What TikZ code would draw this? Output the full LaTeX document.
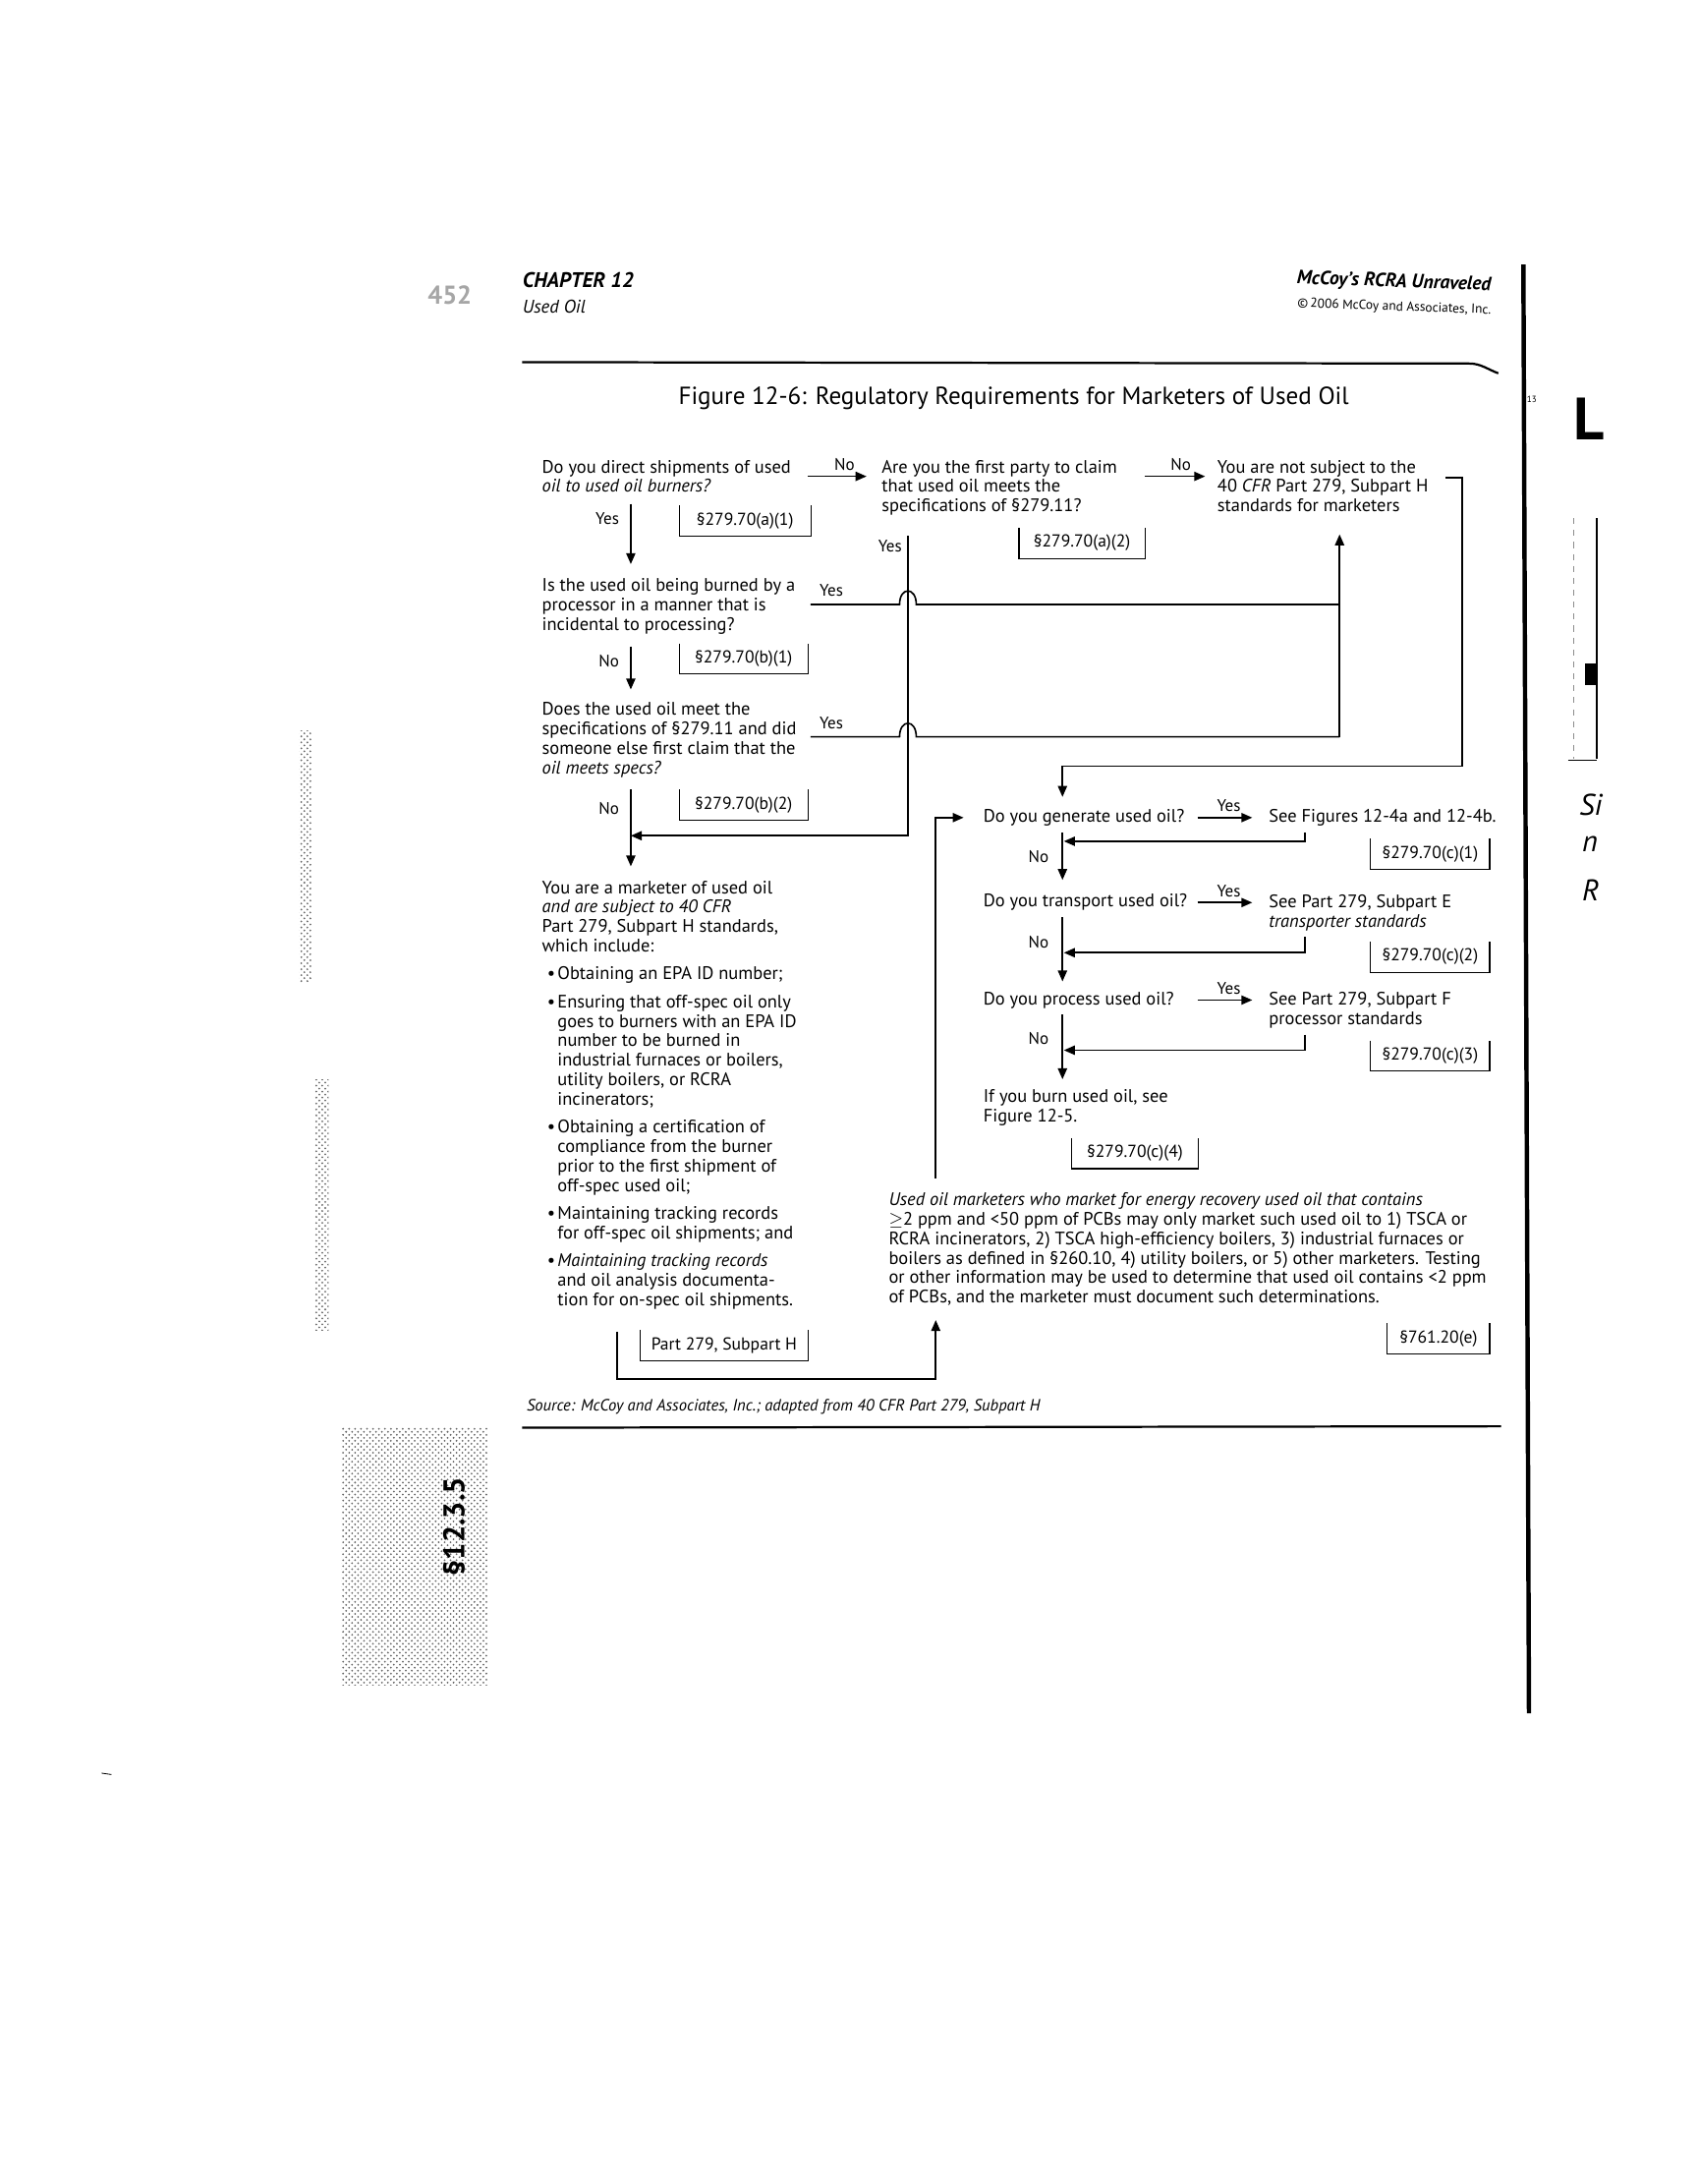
\documentclass[tikz,border=0pt]{standalone}
\usepackage{fontspec}
\setmainfont{PT Sans}
\usetikzlibrary{arrows.meta,positioning,calc,patterns}
\newcommand{\mkbul}{\hspace*{2.6pt}\makebox[5.2pt][l]{\textbullet}}
\newcommand{\mkind}{\hspace*{7.8pt}}

\begin{document}
\begin{tikzpicture}[x=0.7pt,y=-0.7pt,
font=\fontsize{9.1}{9.8}\selectfont,
txt/.style={align=left,anchor=north west,inner sep=0pt},
lbl/.style={font=\fontsize{8.4}{9}\selectfont,inner sep=1.5pt},
refbox/.style={inner sep=0pt,minimum height=15pt,minimum width=#1,font=\fontsize{8.7}{9}\selectfont},
ln/.style={line width=0.8pt},
arr/.style={line width=0.8pt,-{Triangle[length=5.5pt,width=4.6pt]}},
noise/.style={pattern=crosshatch dots,pattern color=black!60}]
\useasboundingbox (0,0) rectangle (1219,1568);

% page header
\node[text=black!35,font=\bfseries\fontsize{13}{14}\selectfont] (pgno) at (323,212) {452};
\node[anchor=west,inner sep=0pt,font=\bfseries\itshape\fontsize{10.6}{11}\selectfont] (chap) at (375,201) {CHAPTER 12};
\node[anchor=west,inner sep=0pt,font=\itshape\fontsize{9.2}{10}\selectfont] (part) at (375,220) {Used Oil};
\node[anchor=east,inner sep=0pt,rotate=-2,font=\bfseries\itshape\fontsize{9.7}{10}\selectfont] (book) at (1071,205) {McCoy's RCRA Unraveled};
\node[anchor=east,inner sep=0pt,rotate=-2,font=\fontsize{6.6}{7}\selectfont] (copy) at (1071,223) {\textcopyright\,2006 McCoy and Associates, Inc.};
\draw[line width=1.1pt] (375,260) -- (1055,261) to[out=0,in=160] (1076,268);
\node[font=\fontsize{12.4}{14}\selectfont] (title) at (728,286) {Figure 12-6: Regulatory Requirements for Marketers of Used Oil};

% questions, left column
\node[txt] (q1) at (389,330) {Do you direct shipments of used\\\textit{oil to used oil burners?}};
\node[txt] (q2) at (633,330) {Are you the first party to claim\\that used oil meets the\\specifications of §279.11?};
\node[txt] (q3) at (874,330) {You are not subject to the\\40 \textit{CFR} Part 279, Subpart H\\standards for marketers};
\node[txt] (q4) at (389,415) {Is the used oil being burned by a\\processor in a manner that is\\incidental to processing?};
\node[txt] (q5) at (389,504) {Does the used oil meet the\\specifications of §279.11 and did\\someone else first claim that the\\\textit{oil meets specs?}};
\node[txt] (mk) at (389,632) {You are a marketer of used oil\\\textit{and are subject to 40 CFR}\\Part 279, Subpart H standards,\\which include:\\[4.2pt]
\mkbul Obtaining an EPA ID number;\\[4.2pt]
\mkbul Ensuring that off-spec oil only\\\mkind goes to burners with an EPA ID\\\mkind number to be burned in\\\mkind industrial furnaces or boilers,\\\mkind utility boilers, or RCRA\\\mkind incinerators;\\[4.2pt]
\mkbul Obtaining a certification of\\\mkind compliance from the burner\\\mkind prior to the first shipment of\\\mkind off-spec used oil;\\[4.2pt]
\mkbul Maintaining tracking records\\\mkind for off-spec oil shipments; and\\[4.2pt]
\mkbul \textit{Maintaining tracking records}\\\mkind and oil analysis documenta-\\\mkind tion for on-spec oil shipments.};

% questions, right column
\node[anchor=west,inner sep=0pt] (g1) at (706,587) {Do you generate used oil?};
\node[anchor=west,inner sep=0pt] (s1) at (911,587) {See Figures 12-4a and 12-4b.};
\node[anchor=west,inner sep=0pt] (g2) at (706,648) {Do you transport used oil?};
\node[txt] (s2) at (911,642) {See Part 279, Subpart E\\\textit{transporter standards}};
\node[anchor=west,inner sep=0pt] (g3) at (706,718) {Do you process used oil?};
\node[txt] (s3) at (911,712) {See Part 279, Subpart F\\processor standards};
\node[txt] (g4) at (706,782) {If you burn used oil, see\\Figure 12-5.};
\node[txt] (pcb) at (638,856) {\textit{Used oil marketers who market for energy recovery used oil that contains}\\
$\geq$2 ppm and <50 ppm of PCBs may only market such used oil to 1) TSCA or\\
RCRA incinerators, 2) TSCA high-efficiency boilers, 3) industrial furnaces or\\
boilers as defined in §260.10, 4) utility boilers, or 5) other marketers. Testing\\
or other information may be used to determine that used oil contains <2 ppm\\
of PCBs, and the marketer must document such determinations.};

% citations
\node[refbox=65.8pt] (ref1) at (535,374) {§279.70(a)(1)};
\node[refbox=63pt] (ref2) at (777,390) {§279.70(a)(2)};
\node[refbox=64.4pt] (ref3) at (534,473) {§279.70(b)(1)};
\node[refbox=64.4pt] (ref4) at (534,578) {§279.70(b)(2)};
\node[refbox=59.5pt] (ref5) at (1027,613) {§279.70(c)(1)};
\node[refbox=59.5pt] (ref6) at (1027,687) {§279.70(c)(2)};
\node[refbox=59.5pt] (ref7) at (1027,758) {§279.70(c)(3)};
\node[refbox=63pt] (ref8) at (815,828) {§279.70(c)(4)};
\node[refbox=84pt] (ref9) at (520,966) {Part 279, Subpart H};
\node[refbox=51pt] (ref10) at (1033,961) {§761.20(e)};
\foreach \r in {1,...,10}
  \draw[line width=0.6pt] (ref\r.north west) |- (ref\r.south east) -- (ref\r.north east);

% guide lines
\coordinate (L) at (453,0);
\coordinate (M) at (652,0);
\coordinate (R) at (962,0);
\coordinate (F) at (1050,0);
\coordinate (G) at (763,0);
\coordinate (E) at (937,0);
\coordinate (B) at (672,0);
\coordinate (K) at (443,0);
\coordinate (Y) at (860,0);
\coordinate (Z) at (905,0);
\coordinate (a1) at (580,342);
\coordinate (a2) at (822,342);
\coordinate (q3out) at (1038,343);
\coordinate (c1) at (1050,550);
\coordinate (j1) at (453,600);
\coordinate (y4) at (582,434);
\coordinate (y5) at (582,529);
\coordinate (m1) at (764,604);
\coordinate (m2) at (764,684);
\coordinate (m3) at (764,754);
\coordinate (bot) at (443,990);

% left column flow
\draw[arr,shorten >=7.5pt] (a1) -- node[lbl,above=1pt]{No} (q2.west |- a1);
\draw[arr,shorten >=6pt] (a2) -- node[lbl,above=1pt]{No} (q3.west |- a2);
\draw[arr,shorten <=5.5pt,shorten >=7pt] (q1.south -| L) -- node[lbl,left=4pt,pos=0.3]{Yes} (q4.north -| L);
\draw[arr,shorten <=6pt,shorten >=6.3pt] (q4.south -| L) -- node[lbl,left=4pt,pos=0.4]{No} (q5.north -| L);
\draw[arr,shorten <=6pt,shorten >=7pt] (q5.south -| L) -- node[lbl,left=4pt,pos=0.3]{No} (mk.north -| L);
\draw[arr,shorten <=10pt] (q2.south -| M) |- (j1);
\node[lbl,anchor=east] (yes2) at (650,392) {Yes};
\draw[ln] (y4) -- ($(M |- y4)+(-6,0)$) .. controls +(0,-13) and +(0,-13) .. ($(M |- y4)+(6,0)$) -- (R |- y4);
\node[lbl] (yes4) at (597,424) {Yes};
\draw[ln] (y5) -- ($(M |- y5)+(-6,0)$) .. controls +(0,-13) and +(0,-13) .. ($(M |- y5)+(6,0)$) -- (R |- y5);
\node[lbl] (yes5) at (597,519) {Yes};
\draw[arr,shorten >=11pt] (R |- y5) -- (q3.south -| R);
\draw[arr,shorten >=6pt] (q3out) -| (c1) -| (g1.north -| G);

% right column flow
\draw[arr,shorten >=4pt] (g1 -| Y) -- node[lbl,above=1pt]{Yes} (g1 -| Z);
\draw[arr,shorten >=4pt] (g2 -| Y) -- node[lbl,above=1pt]{Yes} (g2 -| Z);
\draw[arr,shorten >=4pt] (g3 -| Y) -- node[lbl,above=1pt]{Yes} (g3 -| Z);
\draw[arr,shorten <=3pt] (s1.south -| E) |- (m1);
\draw[arr,shorten <=3pt] (s2.south -| E) |- (m2);
\draw[arr,shorten <=3pt] (s3.south -| E) |- (m3);
\draw[arr,shorten <=3pt,shorten >=7pt] (g1.south -| G) -- node[lbl,left=5pt,pos=0.45]{No} (g2.north -| G);
\draw[arr,shorten <=3pt,shorten >=5pt] (g2.south -| G) -- node[lbl,left=5pt,pos=0.39]{No} (g3.north -| G);
\draw[arr,shorten <=3pt,shorten >=5pt] (g3.south -| G) -- node[lbl,left=5pt,pos=0.37]{No} (g4.north -| G);
\draw[arr,shorten <=7pt,shorten >=9.8pt] (pcb.north -| B) |- (g1.west);
\draw[arr,shorten <=11pt,shorten >=7pt] (mk.south -| K) -- (bot) -| (pcb.south -| B);

% footer
\node[anchor=west,inner sep=0pt,font=\itshape\fontsize{8.2}{9}\selectfont] (src) at (378,1010) {Source: McCoy and Associates, Inc.; adapted from 40 CFR Part 279, Subpart H};
\draw[line width=1.1pt] (375,1025) -- (1078,1024);

% scanned page margins
\draw[line width=2.2pt] (1094,190) -- (1098,1230);
\node[font=\fontsize{4.5}{5}\selectfont,inner sep=0pt] (thirteen) at (1100,287) {13};
\node[anchor=south west,inner sep=0pt,font=\bfseries\fontsize{30}{30}\selectfont] (bigL) at (1130,316) {L};
\draw[black!45,dashed] (1130,372) -- (1130,545);
\draw[line width=1pt] (1147,372) -- (1147,545);
\draw (1126,546) -- (1147,546);
\fill (1138,476) rectangle (1147,492);
\node[anchor=west,inner sep=0pt,font=\itshape\fontsize{15}{15}\selectfont] (si) at (1134,578) {Si};
\node[anchor=west,inner sep=0pt,font=\itshape\fontsize{15}{15}\selectfont] (sn) at (1136,606) {n};
\node[anchor=west,inner sep=0pt,font=\itshape\fontsize{15}{15}\selectfont] (sr) at (1136,639) {R};
\fill[noise] (215,525) rectangle (224,705);
\fill[noise] (226,775) rectangle (236,955);
\fill[noise] (245,1025) rectangle (350,1210);
\node[rotate=90,font=\bfseries\fontsize{15}{15}\selectfont] (tab) at (326,1096) {§12.3.5};
\draw (73,1273) -- (80,1274);
\end{tikzpicture}
\end{document}
